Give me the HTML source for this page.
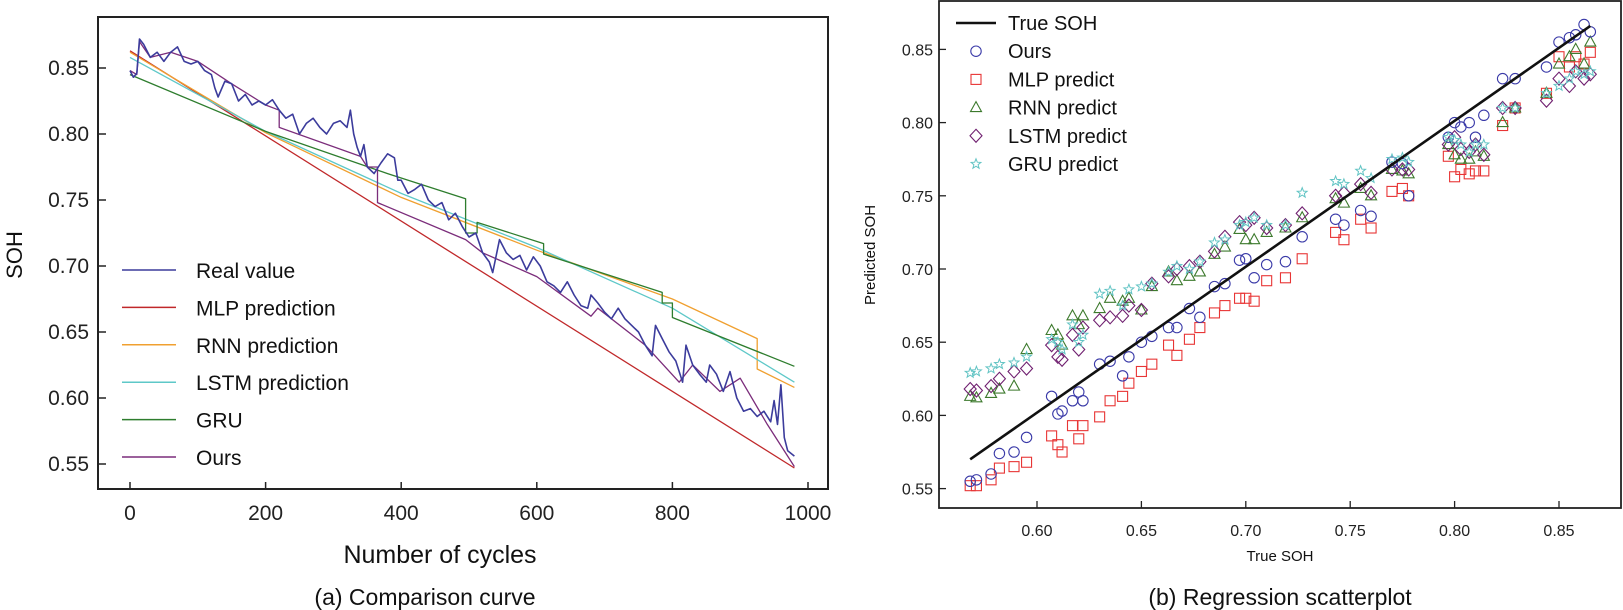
<!DOCTYPE html>
<html><head><meta charset="utf-8"><style>
html,body{margin:0;padding:0;background:#fff;}
svg{display:block;font-family:"Liberation Sans",Arial,sans-serif;}
</style></head><body>
<svg id="fig" width="1623" height="610" viewBox="0 0 1623 610" xmlns="http://www.w3.org/2000/svg">
<g id="left"></g>
<g id="right"></g>
</svg>
<script>
// ---------- Left chart data ----------
const xTicksL = [0,200,400,600,800,1000];
const yTicksL = [0.55,0.60,0.65,0.70,0.75,0.80,0.85];
const realCycles = [0,5,10,14,20,30,40,50,60,70,80,90,100,110,120,125,130,140,150,160,170,180,190,200,210,220,230,240,250,260,270,280,290,300,310,320,325,330,335,340,345,350,360,370,380,390,395,400,410,420,430,440,450,460,470,480,490,500,510,520,530,535,545,555,565,575,585,595,605,615,625,635,645,655,665,675,680,690,700,710,720,730,740,750,760,770,775,785,795,805,815,820,830,840,850,855,865,875,885,895,905,915,925,935,945,950,955,960,965,970,980];
const realValues = [0.848,0.843,0.846,0.872,0.868,0.858,0.862,0.855,0.862,0.866,0.855,0.853,0.855,0.848,0.845,0.835,0.828,0.840,0.838,0.825,0.830,0.822,0.825,0.822,0.826,0.818,0.812,0.815,0.800,0.808,0.812,0.805,0.800,0.808,0.810,0.805,0.818,0.800,0.790,0.783,0.792,0.775,0.770,0.778,0.785,0.782,0.765,0.765,0.755,0.758,0.762,0.750,0.745,0.748,0.735,0.740,0.730,0.722,0.725,0.710,0.703,0.695,0.720,0.710,0.705,0.708,0.697,0.707,0.700,0.688,0.685,0.680,0.688,0.678,0.670,0.668,0.678,0.672,0.665,0.660,0.668,0.660,0.655,0.650,0.640,0.632,0.655,0.645,0.635,0.628,0.612,0.640,0.625,0.618,0.612,0.625,0.618,0.605,0.620,0.600,0.590,0.592,0.586,0.590,0.582,0.598,0.580,0.610,0.570,0.560,0.556];
const mlpCycles = [0,980];
const mlpValues = [0.863,0.547];
const rnnCycles = [0,200,400,600,800,925,925,980];
const rnnValues = [0.862,0.801,0.752,0.712,0.675,0.645,0.622,0.608];
const lstmCycles = [0,200,400,600,800,980];
const lstmValues = [0.858,0.802,0.755,0.714,0.668,0.612];
const gruCycles = [0,200,380,495,495,512,512,610,610,785,785,800,800,980];
const gruValues = [0.845,0.802,0.770,0.751,0.725,0.725,0.733,0.717,0.709,0.680,0.672,0.672,0.661,0.624];
const oursCycles = [0,10,14,30,60,100,150,200,220,220,340,350,365,365,495,520,600,680,690,760,810,830,870,900,940,980];
const oursValues = [0.848,0.845,0.870,0.858,0.862,0.855,0.838,0.822,0.818,0.805,0.783,0.775,0.775,0.748,0.720,0.710,0.692,0.662,0.668,0.640,0.612,0.625,0.605,0.615,0.580,0.548];
const legendLabelsL = ["Real value","MLP prediction","RNN prediction","LSTM prediction","GRU","Ours"];

// ---------- Right chart data ----------
const xTicksR = [0.60,0.65,0.70,0.75,0.80,0.85];
const yTicksR = [0.55,0.60,0.65,0.70,0.75,0.80,0.85];
const trueSOH = [0.568,0.571,0.578,0.582,0.589,0.595,0.607,0.610,0.612,0.617,0.620,0.622,0.630,0.635,0.641,0.644,0.650,0.655,0.663,0.667,0.673,0.678,0.685,0.690,0.697,0.700,0.704,0.710,0.719,0.727,0.743,0.747,0.755,0.760,0.770,0.775,0.778,0.797,0.800,0.803,0.807,0.810,0.814,0.823,0.829,0.844,0.850,0.855,0.858,0.862,0.865];
const oursPred = [0.555,0.556,0.560,0.574,0.575,0.585,0.613,0.601,0.603,0.610,0.616,0.610,0.635,0.637,0.627,0.640,0.650,0.654,0.660,0.660,0.673,0.667,0.688,0.690,0.706,0.707,0.694,0.703,0.705,0.722,0.734,0.730,0.740,0.736,0.773,0.772,0.750,0.790,0.800,0.797,0.800,0.790,0.805,0.830,0.830,0.838,0.855,0.858,0.860,0.867,0.862];
const mlpPred = [0.552,0.552,0.556,0.564,0.565,0.568,0.586,0.580,0.575,0.593,0.584,0.593,0.599,0.610,0.613,0.622,0.630,0.635,0.648,0.641,0.652,0.660,0.670,0.675,0.680,0.680,0.678,0.692,0.694,0.707,0.725,0.720,0.734,0.728,0.753,0.755,0.750,0.777,0.763,0.768,0.765,0.767,0.767,0.798,0.810,0.820,0.845,0.838,0.845,0.840,0.848];
const rnnPred = [0.613,0.612,0.615,0.618,0.620,0.645,0.658,0.655,0.648,0.668,0.662,0.668,0.673,0.680,0.678,0.680,0.672,0.688,0.698,0.692,0.695,0.698,0.710,0.715,0.727,0.720,0.720,0.725,0.728,0.735,0.748,0.745,0.755,0.750,0.768,0.767,0.765,0.785,0.778,0.775,0.775,0.780,0.777,0.800,0.810,0.820,0.840,0.845,0.850,0.840,0.855];
const lstmPred = [0.618,0.617,0.620,0.625,0.630,0.632,0.648,0.640,0.638,0.655,0.645,0.660,0.665,0.667,0.668,0.675,0.672,0.690,0.695,0.700,0.702,0.705,0.712,0.722,0.732,0.730,0.735,0.728,0.730,0.738,0.750,0.752,0.758,0.752,0.768,0.768,0.768,0.785,0.790,0.782,0.780,0.785,0.778,0.810,0.810,0.815,0.830,0.825,0.835,0.830,0.833];
const gruPred = [0.629,0.630,0.632,0.635,0.636,0.640,0.652,0.650,0.645,0.662,0.650,0.655,0.683,0.685,0.675,0.686,0.688,0.690,0.698,0.702,0.700,0.705,0.718,0.720,0.730,0.732,0.735,0.730,0.730,0.752,0.760,0.758,0.767,0.762,0.775,0.776,0.773,0.790,0.788,0.785,0.780,0.785,0.785,0.810,0.810,0.820,0.825,0.830,0.835,0.833,0.835];
const fitLineX = [0.568,0.865];
const fitLineY = [0.570,0.866];
const legendLabelsR = ["True SOH","Ours","MLP predict","RNN predict","LSTM predict","GRU predict"];

const NS = "http://www.w3.org/2000/svg";
function mk(tag, attrs, parent, text){
  const e = document.createElementNS(NS, tag);
  for (const k in attrs) e.setAttribute(k, attrs[k]);
  if (text !== undefined) e.textContent = text;
  parent.appendChild(e);
  return e;
}

// ---------- Left chart ----------
const L = document.getElementById('left');
const XL = c => 130 + c * 0.678;
const YL = v => 68 + (0.85 - v) * 1320;
let el = mk('rect', {x:98, y:17, width:730, height:472, fill:'none', stroke:'#222', 'stroke-width':2}, L);


xTicksL.forEach(t => {
  const x = XL(t);
  el = mk('line', {x1:x, x2:x, y1:489, y2:482, stroke:'#222', 'stroke-width':1.5}, L);
  
  
  el = mk('text', {x:x, y:520, 'font-size':21, 'text-anchor':'middle', fill:'#222'}, L, String(t));
  
  
});
yTicksL.forEach(t => {
  const y = YL(t);
  el = mk('line', {x1:98, x2:106, y1:y, y2:y, stroke:'#222', 'stroke-width':1.5}, L);
  
  
  el = mk('text', {x:89, y:y + 7, 'font-size':21, 'text-anchor':'end', fill:'#222'}, L, t.toFixed(2));
  
  
});
el = mk('text', {x:440, y:563, 'font-size':25, 'text-anchor':'middle', fill:'#111'}, L, 'Number of cycles');


el = mk('text', {x:0, y:0, 'font-size':22, 'text-anchor':'middle', fill:'#111', transform:'translate(22,255) rotate(-90)'}, L, 'SOH');


el = mk('text', {x:425, y:605, 'font-size':23, 'text-anchor':'middle', fill:'#111'}, L, '(a) Comparison curve');



const colsL = ['#3c3c9c','#c0282a','#f0a030','#5ec8c8','#2e7d2e','#7b2d7b'];
function poly(xs, ys, color, name, w){
  const pts = xs.map((c,i) => XL(c).toFixed(1) + ',' + YL(ys[i]).toFixed(1)).join(' ');
  const p = mk('polyline', {points:pts, fill:'none', stroke:color, 'stroke-width':w, 'stroke-linejoin':'round'}, L);
  
  
}
poly(mlpCycles, mlpValues, colsL[1], 'mlp-prediction-line', 1.3);
poly(rnnCycles, rnnValues, colsL[2], 'rnn-prediction-line', 1.3);
poly(lstmCycles, lstmValues, colsL[3], 'lstm-prediction-line', 1.3);
poly(gruCycles, gruValues, colsL[4], 'gru-line', 1.3);
poly(oursCycles, oursValues, colsL[5], 'ours-line', 1.3);
poly(realCycles, realValues, colsL[0], 'real-value-line', 1.6);

legendLabelsL.forEach((lab, i) => {
  const y = 270 + i * 37.4;
  el = mk('line', {x1:122, x2:176, y1:y, y2:y, stroke:colsL[i], 'stroke-width':1.5}, L);
  
  
  el = mk('text', {x:196, y:y + 8, 'font-size':21, fill:'#111'}, L, lab);
  
  
});

// ---------- Right chart ----------
const R = document.getElementById('right');
const XR = v => 1037 + (v - 0.6) * 2088;
const YR = v => 49.4 + (0.85 - v) * 1464;
el = mk('rect', {x:939, y:1, width:682, height:507, fill:'none', stroke:'#222', 'stroke-width':1.8}, R);


xTicksR.forEach(t => {
  const x = XR(t);
  el = mk('line', {x1:x, x2:x, y1:508, y2:501, stroke:'#222', 'stroke-width':1.3}, R);
  
  
  el = mk('text', {x:x, y:536, 'font-size':16, 'text-anchor':'middle', fill:'#222'}, R, t.toFixed(2));
  
  
});
yTicksR.forEach(t => {
  const y = YR(t);
  el = mk('line', {x1:939, x2:946, y1:y, y2:y, stroke:'#222', 'stroke-width':1.3}, R);
  
  
  el = mk('text', {x:933, y:y + 6, 'font-size':16, 'text-anchor':'end', fill:'#222'}, R, t.toFixed(2));
  
  
});
el = mk('text', {x:1280, y:561, 'font-size':15, 'text-anchor':'middle', fill:'#111'}, R, 'True SOH');


el = mk('text', {x:0, y:0, 'font-size':15, 'text-anchor':'middle', fill:'#111', transform:'translate(875,255) rotate(-90)'}, R, 'Predicted SOH');


el = mk('text', {x:1280, y:605, 'font-size':23, 'text-anchor':'middle', fill:'#111'}, R, '(b) Regression scatterplot');



const colsR = {ours:'#3a3aa8', mlp:'#e83535', rnn:'#3d7a2d', lstm:'#702070', gru:'#62c4c4'};
function marker(kind, x, y, color, g){
  let e;
  if (kind === 'circle') e = mk('circle', {cx:x, cy:y, r:5.2, fill:'none', stroke:color, 'stroke-width':1.1}, g);
  else if (kind === 'square') e = mk('rect', {x:x-5, y:y-5, width:10, height:10, fill:'none', stroke:color, 'stroke-width':1.1}, g);
  else if (kind === 'triangle') e = mk('polygon', {points:`${x},${y-6} ${x-5.5},${y+4} ${x+5.5},${y+4}`, fill:'none', stroke:color, 'stroke-width':1.1}, g);
  else if (kind === 'diamond') e = mk('polygon', {points:`${x},${y-6.5} ${x+6},${y} ${x},${y+6.5} ${x-6},${y}`, fill:'none', stroke:color, 'stroke-width':1.1}, g);
  else {
    const pts = [];
    for (let k = 0; k < 10; k++){ const a = -Math.PI/2 + k*Math.PI/5; const r = k%2 ? 2.2 : 5.2; pts.push((x+r*Math.cos(a)).toFixed(1)+','+(y+r*Math.sin(a)).toFixed(1)); }
    e = mk('polygon', {points:pts.join(' '), fill:'none', stroke:color, 'stroke-width':1}, g);
  }
  return e;
}
const series = [
  ['mlp-predict-points','square',mlpPred,colsR.mlp],
  ['rnn-predict-points','triangle',rnnPred,colsR.rnn],
  ['lstm-predict-points','diamond',lstmPred,colsR.lstm],
  ['ours-points','circle',oursPred,colsR.ours],
  ['gru-predict-points','star',gruPred,colsR.gru]
];
series.forEach(s => {
  const g = mk('g', {}, R);
  
  
  trueSOH.forEach((tv, i) => {
    const m = marker(s[1], XR(tv), YR(s[2][i]), s[3], g);
    
    
  });
});
el = mk('line', {x1:XR(fitLineX[0]), y1:YR(fitLineY[0]), x2:XR(fitLineX[1]), y2:YR(fitLineY[1]), stroke:'#111', 'stroke-width':2.6}, R);



const legKinds = ['line','circle','square','triangle','diamond','star'];
const legCols = ['#111',colsR.ours,colsR.mlp,colsR.rnn,colsR.lstm,colsR.gru];
legendLabelsR.forEach((lab, i) => {
  const y = 23 + i * 28.2;
  let sw;
  if (legKinds[i] === 'line') sw = mk('line', {x1:956, x2:996, y1:y, y2:y, stroke:'#111', 'stroke-width':2.6}, R);
  else sw = marker(legKinds[i], 976, y, legCols[i], R);
  
  
  el = mk('text', {x:1008, y:y + 7, 'font-size':20, fill:'#111'}, R, lab);
  
  
});
</script>
</body></html>
